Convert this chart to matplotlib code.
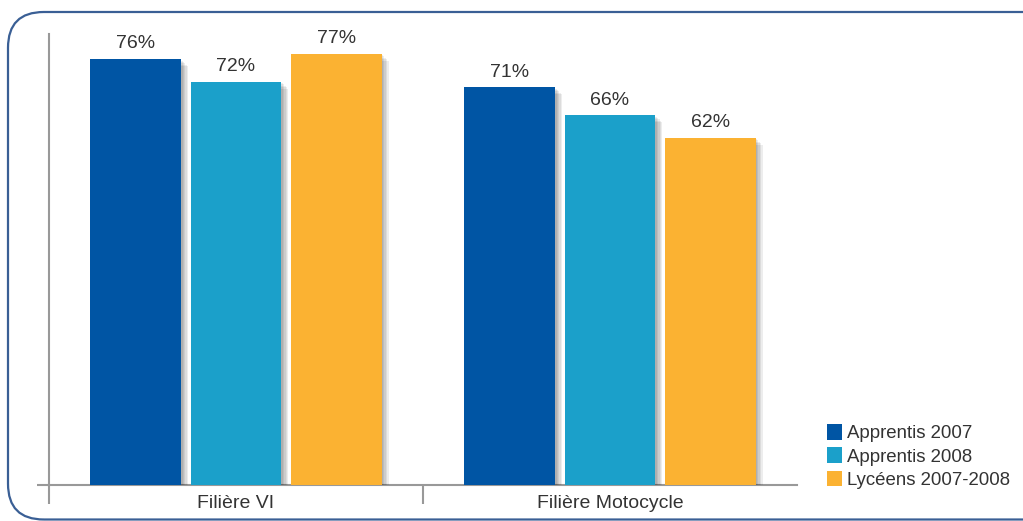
import matplotlib
matplotlib.use("Agg")
import matplotlib.pyplot as plt
import numpy as np
from matplotlib.patches import FancyBboxPatch
from matplotlib import patheffects as pe

categories = ["Filière VI", "Filière Motocycle"]
series_names = ["Apprentis 2007", "Apprentis 2008", "Lycéens 2007-2008"]
values = {
    "Apprentis 2007": [76, 71],
    "Apprentis 2008": [72, 66],
    "Lycéens 2007-2008": [77, 62],
}
colors = ["#0055a4", "#1ba0ca", "#fbb232"]

plt.rcParams["font.family"] = ["Liberation Sans", "DejaVu Sans"]
text_color = "#333333"
axis_color = "#999999"

W, H = 1023, 521
fig = plt.figure(figsize=(W / 100, H / 100), dpi=100)
fig.patch.set_facecolor("white")

# rounded frame around the chart
frame = FancyBboxPatch((8 / W, 1.5 / H), 1.05, (509 - 1.5) / H,
                       boxstyle="round,pad=0,rounding_size=0.035",
                       transform=fig.transFigure, fill=False,
                       edgecolor="#3a5f95", linewidth=1.6,
                       mutation_aspect=W / H)
fig.patches.append(frame)

ax = fig.add_axes([49 / W, 1 - 485 / H, (797 - 49) / W, (485 - 34) / H])
x = np.arange(len(categories))
bar_w = 0.243
step = 0.268
# soft drop shadow built from a few faint offset layers
shadow = [pe.SimplePatchShadow(offset=(k, -k), shadow_rgbFace="#000000", alpha=0.07)
          for k in (1, 2, 3, 4, 5)] + [pe.Normal()]
for i, name in enumerate(series_names):
    pos = x + (i - 1) * step
    bars = ax.bar(pos, values[name], width=bar_w, color=colors[i], label=name,
                  zorder=3, path_effects=shadow)
    for b, v in zip(bars, values[name]):
        ax.text(b.get_x() + b.get_width() / 2, v + 1.2, f"{v}%",
                ha="center", va="bottom", fontsize=14, color=text_color)

ax.set_xlim(-0.5, 1.5)
ax.set_ylim(0, 80.5)
for s in ["top", "right"]:
    ax.spines[s].set_visible(False)
for s in ["left", "bottom"]:
    ax.spines[s].set_color(axis_color)
    ax.spines[s].set_linewidth(1.5)
ax.set_yticks([0])
ax.set_yticklabels([""])
ax.tick_params(axis="y", length=9, width=1.5, color=axis_color)
ax.set_xticks([-0.5, 0.5])
ax.set_xticklabels(["", ""])
ax.tick_params(axis="x", length=14, width=1.5, color=axis_color)
for xi, c in zip(x, categories):
    ax.text(xi, -1.8, c, ha="center", va="top", fontsize=14, color=text_color,
            transform=ax.transData)

leg = fig.legend(loc="lower left", bbox_to_anchor=(814 / W, 1 - 502 / H),
                 frameon=False, fontsize=13.4, handlelength=0.8, handleheight=0.9,
                 handletextpad=0.3, labelspacing=0.28, borderpad=0.2)
for t in leg.get_texts():
    t.set_color(text_color)
for h in leg.legend_handles:
    h.set_path_effects([])

fig.savefig("out.png", dpi=100)
